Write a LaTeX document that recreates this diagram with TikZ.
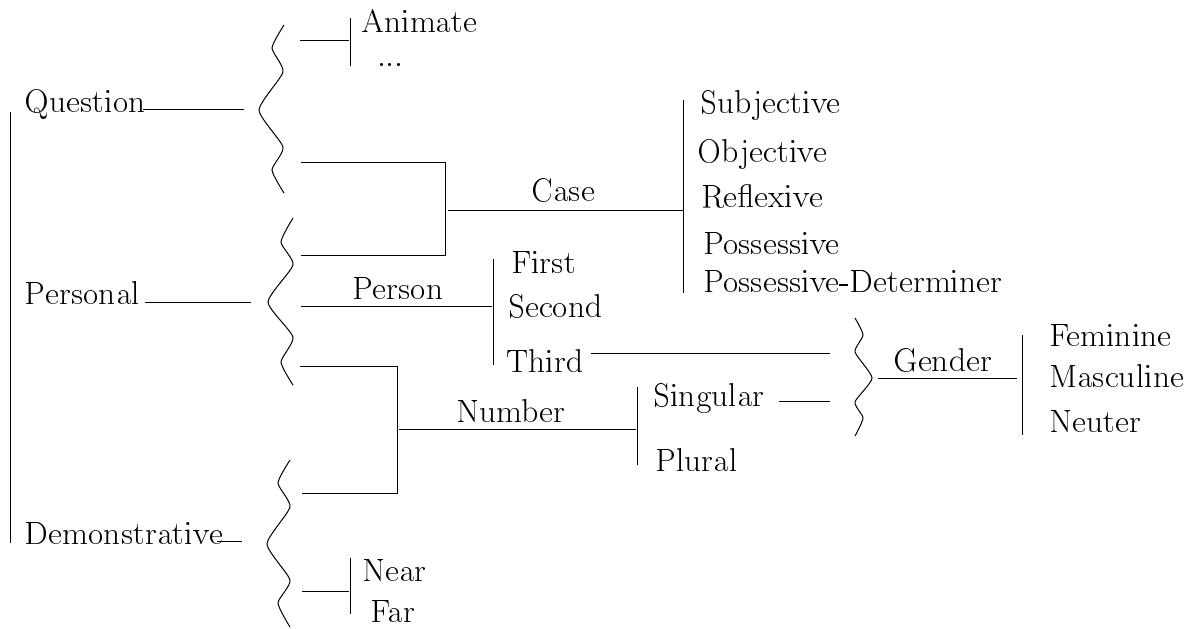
\documentclass[tikz,border=0pt]{standalone}
\usepackage[T1]{fontenc}
\renewcommand\familydefault{lmssq}
\begin{document}
\begin{tikzpicture}[x=0.5pt,y=-0.5pt,line width=0.5pt,
  lbl/.style={inner sep=0pt,outer sep=0pt,scale=0.955,font=\fontsize{17.28}{20}\selectfont},
  bracestyle/.style={line width=0.5pt},
]
\useasboundingbox (0,0) rectangle (1198,628);

% left vertical line
\coordinate (lt) at (10,112);
\coordinate (lb) at (10,543);
\draw (lt) -- (lb);

% top-level labels
\node[lbl,anchor=base west] (question) at (25,112) {Question};
\node[lbl,anchor=base west] (personal) at (25,304) {Personal};
\node[lbl,anchor=base west] (demo) at (25,544) {Demonstrative};

% braces
\draw[bracestyle] plot[smooth,tension=0.35] coordinates {(284,25) (272,48) (283,72) (259,110) (283,147) (272,170) (284,193)};
\draw[bracestyle] plot[smooth,tension=0.35] coordinates {(293,218) (281,242) (293,265) (268,302) (293,337) (281,362) (293,385)};
\draw[bracestyle] plot[smooth,tension=0.35] coordinates {(290,460) (278,483) (290,507) (267,544) (290,580) (278,603) (290,627)};
\draw[bracestyle] plot[smooth,tension=0.35] coordinates {(855,318) (863,335) (855,352) (872,378) (855,402) (863,418) (855,436)};

% lines to braces
\coordinate (qe) at (143,109); \coordinate (qb) at (244,109);
\draw (qe) -- (qb);
\coordinate (pe) at (145,302); \coordinate (pb) at (251,302);
\draw (pe) -- (pb);
\coordinate (de) at (217,541); \coordinate (db) at (242,541);
\draw (de) -- (db);

% Animate
\coordinate (a1) at (300,40); \coordinate (a2) at (349,40);
\draw (a1) -- (a2);
\coordinate (at) at (350,18); \coordinate (ab) at (350,66);
\draw (at) -- (ab);
\node[lbl,anchor=base west] (animate) at (361,32) {Animate};
\node[lbl,anchor=base west] (dots) at (377,66) {...};

% Case
\coordinate (c1) at (301,162); \coordinate (c2) at (445,162);
\coordinate (c3) at (445,255); \coordinate (c4) at (301,255);
\draw (c1) -- (c2) -- (c3) -- (c4);
\coordinate (cs) at (448,210); \coordinate (ce) at (683,210);
\draw (cs) -- (ce);
\node[lbl,anchor=base] (case) at (563,201) {Case};
\coordinate (cbt) at (683,100); \coordinate (cbb) at (683,293);
\draw (cbt) -- (cbb);
\node[lbl,anchor=base west] (subj) at (700,113) {Subjective};
\node[lbl,anchor=base west] (obj) at (697,162) {Objective};
\node[lbl,anchor=base west] (refl) at (701,207) {Reflexive};
\node[lbl,anchor=base west] (poss) at (703,254) {Possessive};
\node[lbl,anchor=base west] (possdet) at (703,292) {Possessive-Determiner};

% Person
\coordinate (ps) at (301,306); \coordinate (pn) at (492,306);
\draw (ps) -- (pn);
\node[lbl,anchor=base] (person) at (398,299) {Person};
\coordinate (pbt) at (493,259); \coordinate (pbb) at (493,365);
\draw (pbt) -- (pbb);
\node[lbl,anchor=base west] (first) at (511,273) {First};
\node[lbl,anchor=base west] (second) at (508,317) {Second};
\node[lbl,anchor=base west] (third) at (506,372) {Third};
\coordinate (t1) at (591,353); \coordinate (t2) at (830,353);
\draw (t1) -- (t2);

% Number
\coordinate (n1) at (300,366); \coordinate (n2) at (397,366);
\coordinate (n3) at (397,493); \coordinate (n4) at (302,493);
\draw (n1) -- (n2) -- (n3) -- (n4);
\coordinate (ns) at (399,429); \coordinate (ne) at (636,429);
\draw (ns) -- (ne);
\node[lbl,anchor=base] (number) at (511,422) {Number};
\coordinate (nbt) at (637,387); \coordinate (nbb) at (637,465);
\draw (nbt) -- (nbb);
\node[lbl,anchor=base west] (sing) at (653,406) {Singular};
\node[lbl,anchor=base west] (plur) at (655,471) {Plural};
\coordinate (s1) at (779,401); \coordinate (s2) at (830,401);
\draw (s1) -- (s2);

% Gender
\coordinate (g1) at (878,378); \coordinate (g2) at (1017,378);
\draw (g1) -- (g2);
\node[lbl,anchor=base] (gender) at (943,371) {Gender};
\coordinate (gbt) at (1022,335); \coordinate (gbb) at (1022,435);
\draw (gbt) -- (gbb);
\node[lbl,anchor=base west] (fem) at (1049,346) {Feminine};
\node[lbl,anchor=base west] (masc) at (1049,387) {Masculine};
\node[lbl,anchor=base west] (neut) at (1049,432) {Neuter};

% Near / Far
\coordinate (f1) at (302,591); \coordinate (f2) at (349,591);
\draw (f1) -- (f2);
\coordinate (fbt) at (350,558); \coordinate (fbb) at (350,614);
\draw (fbt) -- (fbb);
\node[lbl,anchor=base west] (near) at (362,581) {Near};
\node[lbl,anchor=base west] (far) at (370,622) {Far};
\end{tikzpicture}
\end{document}
